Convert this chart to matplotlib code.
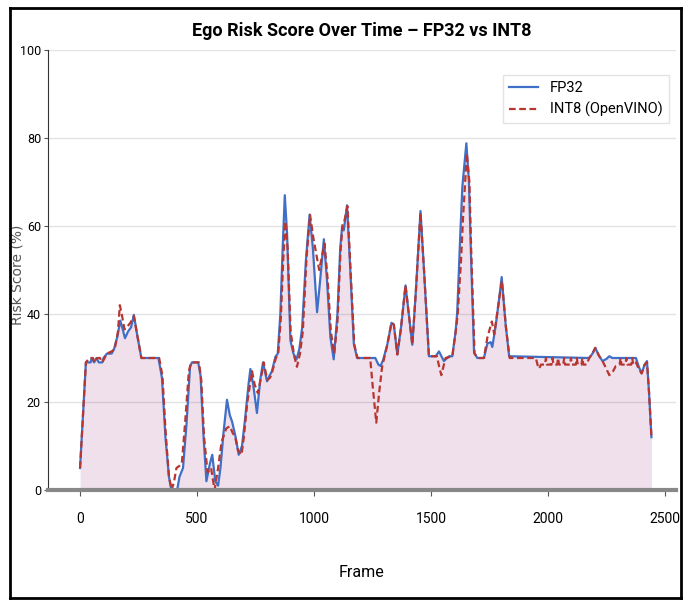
import matplotlib
matplotlib.use("Agg")
import matplotlib.pyplot as plt
from matplotlib.lines import Line2D

plt.rcParams['font.family'] = ['Roboto', 'DejaVu Sans']

# FP32 risk score (frame, value)
fp32_frames = [0, 25, 45, 50, 60, 70, 80, 95, 100, 115, 135, 145, 160, 172, 180, 192, 205, 218, 230, 245, 262,
               335, 350, 365, 380, 390, 415, 425, 440, 455, 470, 478, 505, 515, 528, 540, 555, 565, 578, 590, 600,
               613, 628, 640, 650, 665, 678, 692, 705, 720, 728, 740, 756, 770, 782, 799, 810, 820, 835, 845, 856,
               866, 875, 885, 899, 912, 925, 937, 949, 965, 981, 995, 1013, 1025, 1042, 1055, 1070, 1084, 1100,
               1112, 1120, 1127, 1141, 1155, 1170, 1184, 1262, 1275, 1284, 1295, 1313, 1331, 1341, 1356, 1372,
               1391, 1405, 1420, 1435, 1455, 1470, 1491, 1520, 1534, 1555, 1577, 1591, 1605, 1612, 1625, 1634,
               1651, 1662, 1670, 1684, 1698, 1726, 1741, 1755, 1762, 1777, 1790, 1802, 1819, 1834, 2176, 2190,
               2202, 2218, 2233, 2250, 2262, 2275, 2376, 2388, 2400, 2413, 2423, 2432, 2442]
fp32_values = [5, 29, 29, 30, 29, 30, 29, 29, 30, 31, 31, 32, 35, 38.5, 37, 34.5, 36, 37, 39.8, 35, 30,
               30, 25.5, 12, 3, 0, 0, 3, 5, 15, 28, 29, 29, 26, 12, 2, 6, 8, 2, 1, 5,
               13, 20.5, 17, 15.5, 12, 8, 10, 16, 24, 27.5, 24, 17.5, 25, 29, 24.7, 26, 27, 30.3, 31, 40,
               55, 67, 58, 34, 31, 29.7, 32, 36.8, 52, 62.6, 55, 40.4, 47, 57, 48, 34.7, 29.7, 40,
               55, 59.8, 59, 64.7, 50, 33.3, 30, 30, 28.5, 28.2, 29.5, 33, 38, 37.6, 30.8, 37,
               46.5, 40, 33, 45, 63.4, 50, 30.4, 30.4, 31.5, 29.3, 30.4, 30.4, 36, 40.4, 58, 69,
               78.8, 70, 54.8, 31.2, 30, 30, 33.3, 33.6, 32.5, 37.6, 43, 48.4, 37.6, 30.4, 30, 31,
               32.3, 30.5, 29.3, 29.8, 30.4, 30, 30, 28, 26.5, 28.5, 29.3, 22, 12]

# INT8 (OpenVINO) risk score
int8_frames = [0, 25, 40, 55, 62, 75, 85, 95, 105, 115, 135, 148, 162, 170, 178, 190, 200, 215, 230, 245, 262,
               338, 352, 366, 380, 392, 402, 412, 425, 435, 450, 465, 475, 508, 518, 530, 545, 560, 575, 590,
               605, 625, 640, 652, 663, 675, 690, 700, 715, 735, 746, 760, 775, 785, 800, 812, 822, 837, 847,
               858, 868, 877, 887, 900, 915, 927, 940, 952, 968, 983, 998, 1013, 1022, 1045, 1058, 1072, 1086,
               1100, 1113, 1122, 1129, 1143, 1157, 1172, 1186, 1240, 1250, 1266, 1278, 1291, 1313, 1331, 1341,
               1356, 1372, 1391, 1405, 1420, 1435, 1455, 1470, 1491, 1525, 1535, 1544, 1562, 1591, 1608, 1614,
               1628, 1637, 1653, 1664, 1672, 1686, 1700, 1726, 1741, 1760, 1770, 1791, 1803, 1820, 1836, 1948,
               1955, 1962, 1970, 1987, 1991, 1995, 2015, 2019, 2023, 2039, 2043, 2047, 2065, 2069, 2073, 2094,
               2098, 2102, 2119, 2123, 2127, 2143, 2147, 2151, 2165, 2176, 2190, 2202, 2218, 2233, 2245, 2262,
               2278, 2290, 2306, 2310, 2314, 2331, 2335, 2339, 2356, 2360, 2364, 2376, 2388, 2400, 2413, 2423,
               2432, 2442]
int8_values = [5, 29, 30, 30, 29, 30, 30, 29, 30, 31, 31.5, 32, 36, 42, 40, 36.5, 37, 38, 39.5, 35, 30,
               30, 26, 13, 3, 0, 2, 5, 5.5, 6, 16, 27, 29, 29, 25, 12, 4, 5, 0, 5,
               11, 14, 14.5, 13, 12, 9, 8, 12, 20, 27, 24, 22, 26, 29, 25, 25.5, 27, 30, 31,
               39, 52, 61, 55, 36, 30.5, 28, 31, 36, 53, 62.5, 57, 52.7, 50, 56, 48, 36, 31,
               38, 54, 60.5, 61, 64.5, 49, 33, 30, 30, 24, 15.3, 22, 28, 33, 38, 37.6,
               30.8, 37, 46.5, 40, 33, 45, 63, 50, 30.4, 30.4, 28, 26.1, 30, 30.4, 37, 40,
               52, 62, 76.5, 70, 54, 31, 30, 30, 34.7, 38.3, 35.4, 43.3, 47.5, 37, 30, 30,
               28.5, 27.6, 28.5, 28.5, 30, 28.5, 28.5, 30, 28.5, 28.5, 30, 28.5, 28.5, 30, 28.5, 28.5,
               30, 28.5, 28.5, 30, 28.5, 28.5, 30, 28.5, 28.5, 30, 31, 32.3, 30.5, 29.3, 28, 26.1,
               27, 28.2, 28.5, 30, 28.5, 28.5, 30, 28.5, 28.5, 30, 28.5, 29, 27.5, 26.5, 28.5, 29,
               22, 12]

x_ticks = [0, 500, 1000, 1500, 2000, 2500]
y_ticks = [0, 20, 40, 60, 80, 100]

fig = plt.figure(figsize=(6.86, 6.0), dpi=100)
ax = fig.add_axes([48 / 686, 110 / 600, 628 / 686, 440 / 600])

# light fill under the FP32 curve
ax.fill_between(fp32_frames, fp32_values, 0, color='#800060', alpha=0.12, linewidth=0)
ax.plot(fp32_frames, fp32_values, color='#3f6fc6', lw=1.6, label='FP32')
ax.plot(int8_frames, int8_values, color='#b8362f', lw=1.6, ls=(0, (3, 1.6)), label='INT8 (OpenVINO)')

ax.set_xlim(-137, 2547)
ax.set_ylim(0, 100)
ax.set_xticks(x_ticks)
ax.set_yticks(y_ticks)
ax.tick_params(axis='x', labelsize=10, length=4, pad=12, color='#555555')
ax.tick_params(axis='y', labelsize=9, length=3, pad=2, color='#555555')
ax.grid(axis='y', color='#e3e3e3', lw=1)
ax.set_axisbelow(True)

for side in ['top', 'right']:
    ax.spines[side].set_visible(False)
ax.spines['left'].set_color('#333333')
ax.spines['left'].set_linewidth(0.8)
ax.spines['bottom'].set_color('#888888')
ax.spines['bottom'].set_linewidth(3)

ax.set_title('Ego Risk Score Over Time – FP32 vs INT8', fontsize=13, fontweight='bold', pad=10)
ax.set_xlabel('Frame', fontsize=11.5, labelpad=28)
ax.set_ylabel('Risk Score (%)', fontsize=10, family=['DejaVu Sans'], color='#555555')
ax.yaxis.set_label_coords(-0.037, 0.49)

ax.legend(loc='upper right', fontsize=10.5, frameon=True, edgecolor='#dddddd', fancybox=False,
          bbox_to_anchor=(1.0, 0.96), handlelength=2.0)

# black frame around the whole picture
for xs, ys in [([10, 10], [8, 598]), ([681, 681], [8, 598]), ([10, 681], [8, 8]), ([10, 681], [598, 598])]:
    fig.add_artist(Line2D([x / 686 for x in xs], [1 - y / 600 for y in ys], color='black', lw=2,
                          transform=fig.transFigure))

fig.savefig('out.png', dpi=100)
